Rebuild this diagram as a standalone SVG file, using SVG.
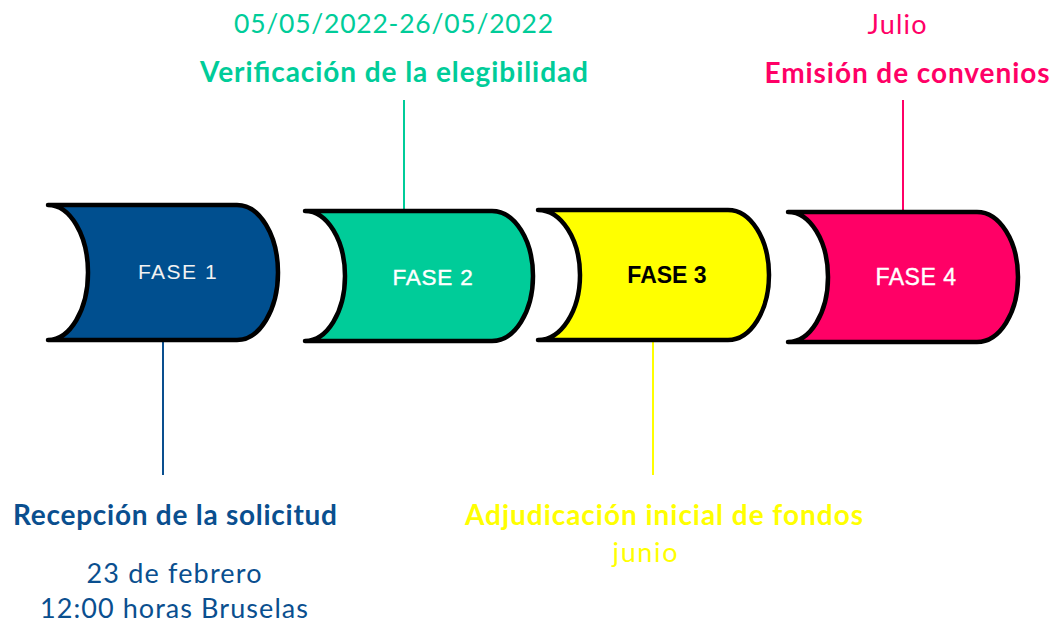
<svg xmlns="http://www.w3.org/2000/svg" width="1054" height="624" viewBox="0 0 1054 624">
<style>
.shape{stroke:#000;stroke-width:4.5;stroke-linejoin:round;stroke-linecap:round}
.fase{font-family:"Liberation Sans",Arial,sans-serif;text-anchor:middle}
.t{font-family:Lato,"Liberation Sans",sans-serif;text-anchor:middle}
.b{font-weight:bold}
.conn{stroke-width:2;fill:none}
</style>
<rect width="1054" height="624" fill="#fff"/>
<g id="connectors">
<line class="conn" x1="163" y1="340" x2="163" y2="475" stroke="#0a4f8f"/>
<line class="conn" x1="404" y1="100" x2="404" y2="212" stroke="#00cc99"/>
<line class="conn" x1="653" y1="340" x2="653" y2="475" stroke="#ffff00"/>
<line class="conn" x1="903" y1="100" x2="903" y2="212" stroke="#ff0066"/>
</g>
<g id="fase1">
<path class="shape" fill="#004f8f" d="M48,205 L237,205 A41,67.5 0 0 1 237,340 L48,340 A40,67.5 0 0 0 48,205 Z"/>
<text class="fase" x="178" y="279" font-size="21" fill="#f2f2f2" letter-spacing="1.5">FASE 1</text>
</g>
<g id="fase2">
<path class="shape" fill="#00cc99" d="M305,211 L492,211 A41,65 0 0 1 492,341 L305,341 A40,65 0 0 0 305,211 Z"/>
<text class="fase" x="433" y="285" font-size="22.5" fill="#fff" letter-spacing="0.8" stroke="#fff" stroke-width="0.4">FASE 2</text>
</g>
<g id="fase3">
<path class="shape" fill="#ffff00" d="M538,210 L728,210 A41,65 0 0 1 728,340 L538,340 A42,65 0 0 0 538,210 Z"/>
<text class="fase b" x="667" y="283" font-size="23" fill="#000">FASE 3</text>
</g>
<g id="fase4">
<path class="shape" fill="#ff0066" d="M788,212 L977,212 A41,65 0 0 1 977,342 L788,342 A40,65 0 0 0 788,212 Z"/>
<text class="fase" x="916" y="285" font-size="23" fill="#fff" letter-spacing="0.5" stroke="#fff" stroke-width="0.4">FASE 4</text>
</g>
<g id="label-top2" fill="#00cc99">
<text class="t" x="393.5" y="33" font-size="26.5" textLength="319">05/05/2022-26/05/2022</text>
<text class="t b" x="394" y="82" font-size="28" textLength="388">Verificación de la elegibilidad</text>
</g>
<g id="label-top4" fill="#ff0066">
<text class="t" x="897" y="34" font-size="27" textLength="59">Julio</text>
<text class="t b" x="907" y="83" font-size="28" textLength="285">Emisión de convenios</text>
</g>
<g id="label-bottom1" fill="#0a4f8f">
<text class="t b" x="175" y="525" font-size="28" textLength="324">Recepción de la solicitud</text>
<text class="t" x="174" y="583" font-size="27" textLength="175">23 de febrero</text>
<text class="t" x="174" y="618" font-size="27" textLength="268">12:00 horas Bruselas</text>
</g>
<g id="label-bottom3" fill="#ffff00">
<text class="t b" x="664" y="525" font-size="28" textLength="398">Adjudicación inicial de fondos</text>
<text class="t" x="645" y="562" font-size="27" textLength="65">junio</text>
</g>
</svg>
